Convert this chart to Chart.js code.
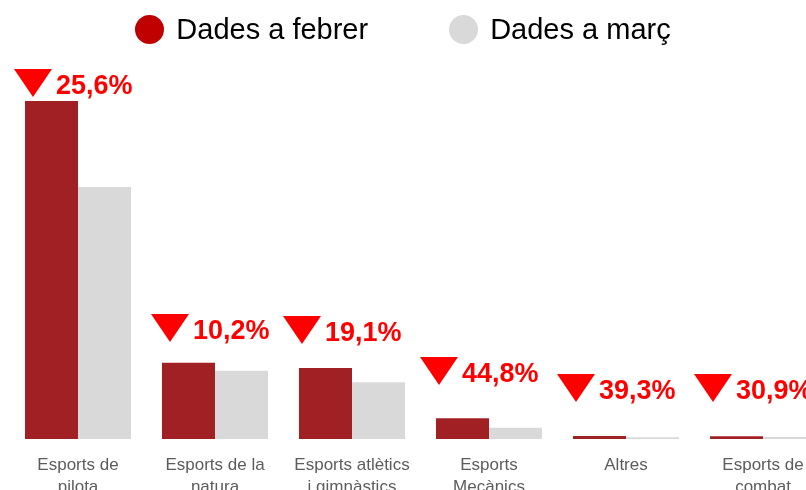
<!DOCTYPE html>
<html>
<head>
<meta charset="utf-8">
<script src="https://cdn.jsdelivr.net/npm/chart.js@4/dist/chart.umd.min.js"></script>
<style>
  html, body { margin: 0; padding: 0; background: #fff; overflow: hidden; width: 806px; height: 490px; }
  #wrap { position: relative; width: 840px; height: 490px; }
  #legend {
    position: absolute; top: 13px; left: 0; width: 806px;
    display: flex; justify-content: center; gap: 81px;
    font-family: 'Liberation Sans', Arial, sans-serif; font-size: 29px; color: #000;
  }
  .leg-item { display: flex; align-items: center; white-space: nowrap; }
  .leg-dot { width: 29px; height: 29px; border-radius: 50%; margin-right: 12px; }
</style>
</head>
<body>
<div id="wrap">
  <canvas id="chart" width="840" height="490"></canvas>
  <div id="legend"></div>
</div>
<script>
  // Categories (two-line tick labels)
  const categories = [
    ['Esports de', 'pilota'],
    ['Esports de la', 'natura'],
    ['Esports atlètics', 'i gimnàstics'],
    ['Esports', 'Mecànics'],
    ['Altres'],
    ['Esports de', 'combat']
  ];

  // Values (same arbitrary unit for both series)
  const febrer = [338, 76.3, 71, 20.7, 3, 2.7];
  const marc = [252, 68.3, 56.7, 11.3, 1.8, 1.9];

  // Drop labels and where their triangle tip sits (in value units)
  const dropLabels = ['25,6%', '10,2%', '19,1%', '44,8%', '39,3%', '30,9%'];
  const dropAt = [342, 97, 95, 54, 37, 37];

  const seriesNames = ['Dades a febrer', 'Dades a març'];
  const barColors = ['#a02024', '#d9d9d9'];
  const legendColors = ['#c00000', '#d9d9d9'];
  // the original nudges the last four badges a bit to the left
  const dropNudge = [0, 0, -5, -5, -5, -5];

  Chart.defaults.font.family = "'Liberation Sans', Arial, sans-serif";

  // Red triangles + percentage above each group
  const dropPlugin = {
    id: 'drops',
    afterDatasetsDraw(chart) {
      const ctx = chart.ctx;
      const xs = chart.scales.x;
      const ys = chart.scales.y;
      ctx.save();
      ctx.fillStyle = '#ff0000';
      ctx.font = "bold 27px 'Liberation Sans', Arial, sans-serif";
      ctx.textBaseline = 'alphabetic';
      ctx.textAlign = 'left';
      dropLabels.forEach((txt, i) => {
        const cx = xs.getPixelForValue(i) + dropNudge[i];
        const tip = ys.getPixelForValue(dropAt[i]);
        const tx = cx - 45;
        ctx.beginPath();
        ctx.moveTo(tx - 19, tip - 28);
        ctx.lineTo(tx + 19, tip - 28);
        ctx.lineTo(tx, tip);
        ctx.closePath();
        ctx.fill();
        ctx.fillText(txt, cx - 22, tip - 3);
      });
      ctx.restore();
    }
  };

  const chart = new Chart(document.getElementById('chart'), {
    type: 'bar',
    data: {
      labels: categories,
      datasets: [
        { label: seriesNames[0], data: febrer, backgroundColor: barColors[0] },
        { label: seriesNames[1], data: marc, backgroundColor: barColors[1] }
      ]
    },
    options: {
      responsive: false,
      animation: false,
      devicePixelRatio: 1,
      layout: { padding: { left: 9.5, right: 8.5, top: 39, bottom: 0 } },
      datasets: { bar: { categoryPercentage: 0.774, barPercentage: 1 } },
      plugins: {
        legend: { display: false },
        tooltip: { enabled: false }
      },
      scales: {
        x: {
          grid: { display: false, drawTicks: false },
          border: { display: false },
          ticks: {
            color: '#5c5c5c',
            font: { size: 17, lineHeight: 1.25 },
            padding: 16,
            maxRotation: 0,
            autoSkip: false
          },
          afterFit: s => { s.height = 51; }
        },
        y: { display: false, min: 0, max: 400 }
      }
    },
    plugins: [dropPlugin]
  });

  // Legend built from the chart's datasets
  const legendEl = document.getElementById('legend');
  chart.data.datasets.forEach((ds, i) => {
    const item = document.createElement('div');
    item.className = 'leg-item';
    item.innerHTML = `<span class="leg-dot" style="background:${legendColors[i]}"></span><span>${ds.label}</span>`;
    legendEl.appendChild(item);
  });
</script>
</body>
</html>
